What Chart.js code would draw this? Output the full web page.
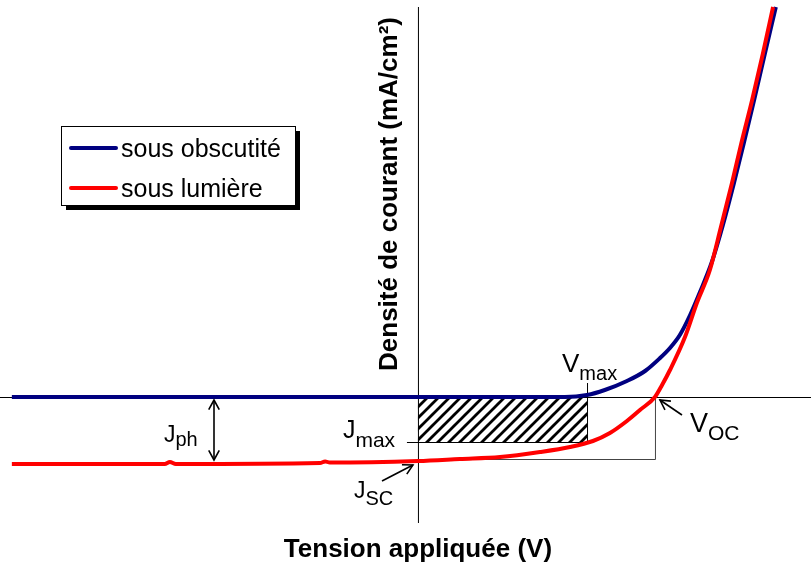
<!DOCTYPE html>
<html>
<head>
<meta charset="utf-8">
<script src="https://cdn.jsdelivr.net/npm/chart.js@4.4.1/dist/chart.umd.min.js"></script>
<style>
  html, body { margin: 0; padding: 0; background: #fff; }
  canvas { display: block; }
</style>
</head>
<body>
<canvas id="jv" width="811" height="567"></canvas>
<script>
// J(V) curves of the cell, dark and illuminated (V in volts, J in mA/cm²)
const darkV = [-1.028, 0, 0.372, 0.428, 0.473, 0.529, 0.575, 0.613, 0.638, 0.663, 0.689, 0.714, 0.744, 0.772, 0.800, 0.825, 0.851, 0.878, 0.906];
const darkJ = [0, 0, 0, 0.5, 1.75, 4.0, 6.5, 9.75, 12.25, 15.5, 20.5, 26.25, 33.75, 43, 53.5, 63.5, 74.25, 85.75, 97.5];

const lightV = [-1.028, -0.641, -0.628, -0.613, -0.248, -0.235, -0.223, 0, 0.106, 0.208, 0.309, 0.385, 0.443, 0.486, 0.529, 0.562, 0.600, 0.618, 0.638, 0.676, 0.706, 0.739, 0.767, 0.795, 0.820, 0.846, 0.873, 0.899];
const lightJ = [-16.75, -16.75, -16.25, -16.75, -16.5, -16.1, -16.4, -16, -15.5, -15, -13.75, -12.5, -11.0, -9.0, -6.0, -3.25, 0, 3.0, 6.75, 15, 23.5, 31.75, 42.5, 53.5, 64, 74.25, 85.75, 97.5];

const seriesLabels = ["sous obscutité", "sous lumière"];

// characteristic points
const Vmax = 0.428;
const Jmax = -11.25;
const Voc = 0.6;
const Jsc = -15.5;

// extent of the drawn axes
const axisBottom = -31.5;
const axisTop = 97.5;

const FONT = '"Liberation Sans", Arial, sans-serif';

function toPoints(xs, ys) {
  return xs.map((x, i) => ({ x: x, y: ys[i] }));
}

function hatchPattern(ctx) {
  const p = document.createElement("canvas");
  p.width = 11;
  p.height = 11;
  const g = p.getContext("2d");
  g.strokeStyle = "#000";
  g.lineWidth = 2.8;
  g.beginPath();
  g.moveTo(-2, 13); g.lineTo(13, -2);
  g.moveTo(-13, 13); g.lineTo(2, -2);
  g.moveTo(9, 13); g.lineTo(24, -2);
  g.stroke();
  return ctx.createPattern(p, "repeat");
}

function arrowHead(ctx, x1, y1, x2, y2, len) {
  const a = Math.atan2(y2 - y1, x2 - x1);
  ctx.beginPath();
  ctx.moveTo(x2 - len * Math.cos(a - 0.5), y2 - len * Math.sin(a - 0.5));
  ctx.lineTo(x2, y2);
  ctx.lineTo(x2 - len * Math.cos(a + 0.5), y2 - len * Math.sin(a + 0.5));
  ctx.stroke();
}

function arrow(ctx, x1, y1, x2, y2, both) {
  ctx.beginPath();
  ctx.moveTo(x1, y1);
  ctx.lineTo(x2, y2);
  ctx.stroke();
  arrowHead(ctx, x1, y1, x2, y2, 11);
  if (both) arrowHead(ctx, x2, y2, x1, y1, 11);
}

// letter with a subscript, e.g. V_max
function subLabel(ctx, main, sub, x, y, size, subSize, drop) {
  ctx.fillStyle = "#000";
  ctx.textAlign = "left";
  ctx.textBaseline = "alphabetic";
  ctx.font = size + "px " + FONT;
  ctx.fillText(main, x, y);
  const w = ctx.measureText(main).width;
  ctx.font = subSize + "px " + FONT;
  ctx.fillText(sub, x + w, y + drop);
}

const sketch = {
  id: "sketch",
  beforeDatasetsDraw(chart) {
    const ctx = chart.ctx;
    const xs = chart.scales.x, ys = chart.scales.y;
    const x0 = xs.getPixelForValue(0), y0 = ys.getPixelForValue(0);
    const xm = xs.getPixelForValue(Vmax), ym = ys.getPixelForValue(Jmax);
    const xoc = xs.getPixelForValue(Voc), ysc = ys.getPixelForValue(Jsc);
    ctx.save();

    // maximum power rectangle
    ctx.fillStyle = hatchPattern(ctx);
    ctx.fillRect(x0, y0, xm - x0, ym - y0);

    ctx.strokeStyle = "#000";
    ctx.lineWidth = 1;
    ctx.beginPath();
    ctx.moveTo(x0 - 11, ym + 0.5); ctx.lineTo(xm, ym + 0.5);
    ctx.moveTo(xm + 0.5, y0 - 14); ctx.lineTo(xm + 0.5, ym);
    ctx.stroke();

    // Voc x Jsc box
    ctx.strokeStyle = "#444";
    ctx.beginPath();
    ctx.moveTo(x0, ysc + 0.5); ctx.lineTo(xoc + 0.5, ysc + 0.5); ctx.lineTo(xoc + 0.5, y0);
    ctx.stroke();

    // axes
    ctx.strokeStyle = "#000";
    ctx.beginPath();
    ctx.moveTo(x0 + 0.5, ys.getPixelForValue(axisBottom));
    ctx.lineTo(x0 + 0.5, ys.getPixelForValue(axisTop));
    ctx.moveTo(xs.left, y0 + 0.5);
    ctx.lineTo(xs.right, y0 + 0.5);
    ctx.stroke();
    ctx.restore();
  },
  afterDatasetsDraw(chart) {
    const ctx = chart.ctx;
    const xs = chart.scales.x, ys = chart.scales.y;
    const x0 = xs.getPixelForValue(0), y0 = ys.getPixelForValue(0);
    const xm = xs.getPixelForValue(Vmax), ym = ys.getPixelForValue(Jmax);
    const xoc = xs.getPixelForValue(Voc);
    const yLight = ys.getPixelForValue(lightJ[0]);
    ctx.save();

    // axis titles
    ctx.fillStyle = "#000";
    ctx.font = "bold 26px " + FONT;
    ctx.textAlign = "center";
    ctx.textBaseline = "alphabetic";
    ctx.fillText("Tension appliquée (V)", x0, 557);
    ctx.save();
    ctx.translate(x0 - 21, 194);
    ctx.rotate(-Math.PI / 2);
    ctx.font = "bold 26px " + FONT;
    ctx.fillText("Densité de courant (mA/cm²)", 0, 0);
    ctx.restore();

    // point labels
    subLabel(ctx, "V", "max", xm - 25, y0 - 25, 26, 20, 8);
    subLabel(ctx, "J", "max", x0 - 75, ym - 4, 25, 21, 9);
    subLabel(ctx, "J", "SC", x0 - 64, 498, 23, 20, 7);
    subLabel(ctx, "V", "OC", xoc + 35, y0 + 35, 27, 21, 8);
    subLabel(ctx, "J", "ph", 164, 442, 23, 20, 4);

    ctx.strokeStyle = "#000";
    ctx.lineWidth = 1.6;
    arrow(ctx, 382, 481, x0 - 5, 465, false);
    arrow(ctx, xoc + 27, 415, xoc + 5, 400, false);
    arrow(ctx, 214, y0 + 3, 214, yLight - 4, true);

    // legend with drop shadow
    const lx = 61, ly = 126, lw = 234, lh = 79;
    ctx.fillStyle = "#000";
    ctx.fillRect(lx + 5, ly + 5, lw, lh);
    ctx.fillStyle = "#fff";
    ctx.fillRect(lx, ly, lw, lh);
    ctx.strokeStyle = "#000";
    ctx.lineWidth = 1;
    ctx.strokeRect(lx + 0.5, ly + 0.5, lw, lh);
    chart.data.datasets.forEach((ds, i) => {
      const y = 148 + i * 40;
      ctx.strokeStyle = ds.borderColor;
      ctx.lineWidth = 4;
      ctx.lineCap = "round";
      ctx.beginPath();
      ctx.moveTo(71, y);
      ctx.lineTo(116, y);
      ctx.stroke();
      ctx.fillStyle = "#000";
      ctx.font = "25px " + FONT;
      ctx.textAlign = "left";
      ctx.textBaseline = "middle";
      ctx.fillText(ds.label, 121, y + 2);
    });
    ctx.restore();
  }
};

new Chart(document.getElementById("jv"), {
  type: "line",
  data: {
    datasets: [
      {
        label: seriesLabels[0],
        data: toPoints(darkV, darkJ),
        borderColor: "#000080",
        borderWidth: 4,
        pointRadius: 0,
        order: 2,
        cubicInterpolationMode: "monotone"
      },
      {
        // illuminated curve sits on top of the dark one
        label: seriesLabels[1],
        data: toPoints(lightV, lightJ),
        borderColor: "#ff0000",
        borderWidth: 4,
        pointRadius: 0,
        order: 1,
        cubicInterpolationMode: "monotone"
      }
    ]
  },
  options: {
    responsive: false,
    animation: false,
    layout: { padding: 0 },
    plugins: { legend: { display: false }, tooltip: { enabled: false } },
    scales: {
      x: { type: "linear", display: false, min: -1.058, max: 0.995 },
      y: { type: "linear", display: false, min: -42.5, max: 99.25 }
    }
  },
  plugins: [sketch]
});
</script>
</body>
</html>
